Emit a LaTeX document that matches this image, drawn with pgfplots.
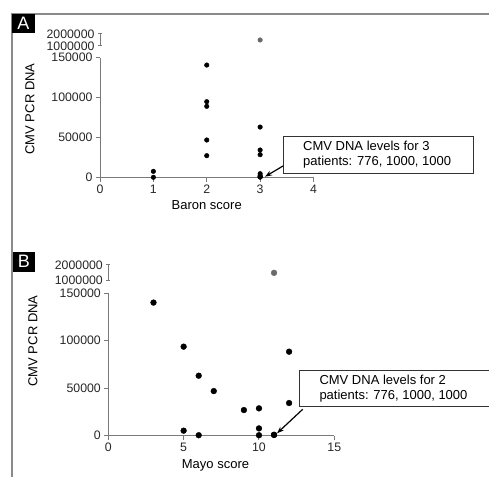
\documentclass[border=0pt]{standalone}
\usepackage{fontspec}
\setmainfont{Liberation Sans}
\usepackage{pgfplots}
\pgfplotsset{compat=1.18}
\usetikzlibrary{arrows.meta}

\definecolor{axisgray}{HTML}{7A7A7A}
\definecolor{framegray}{HTML}{8A8A8A}
\definecolor{dotgray}{HTML}{6A6A6A}

\pgfplotsset{
  panel/.style={
    scale only axis,
    clip=false,
    axis lines=left,
    axis line style={-, axisgray, line width=1pt},
    tick style={axisgray, line width=1pt},
    tick align=outside,
    major tick length=4bp,
    xtick pos=bottom, ytick pos=left,
    scaled y ticks=false,
    /pgf/number format/assume math mode=true,
    yticklabel style={/pgf/number format/fixed, /pgf/number format/1000 sep={}},
    ticklabel style={font=\fontsize{12.3bp}{14bp}\selectfont, text=black!85},
  },
  upper/.style={
    panel,
    hide x axis,
    axis y line=left,
    axis line style={-, axisgray, line width=1pt},
    ymin=1000000, ymax=2000000,
    ytick={1000000,2000000},
  },
  dots/.style={only marks, mark=*, mark size=#1, mark options={fill=black, draw=black}},
  gdots/.style={only marks, mark=*, mark size=#1, mark options={fill=dotgray, draw=dotgray}},
}

\begin{document}
\begin{tikzpicture}[x=1bp, y=1bp, font=\fontsize{13bp}{15bp}\selectfont]
\path[use as bounding box] (0,0) rectangle (489,477);

% frame
\draw[framegray, line width=1.5bp] (489,463) -- (12,463) -- (12,0);

% ---------- panel A ----------
\fill[black] (12,463) rectangle (35,444);
\node[text=white, font=\fontsize{18bp}{18bp}\selectfont] at (23.5,454) {A};

\begin{axis}[panel, at={(100bp,299.3bp)}, anchor=south west,
  width=213.5bp, height=120bp,
  xmin=0, xmax=4, ymin=0, ymax=150000,
  xtick={0,1,2,3,4}, ytick={0,50000,100000,150000}]
\addplot[dots=2.3bp] coordinates {
  (1,7900) (1,500)
  (2,140800) (2,95000) (2,89200) (2,47100) (2,27500)
  (3,63300) (3,34600) (3,28750) (3,5000) (3,2500) (3,1000) (3,1000) (3,776)
};
\end{axis}

\begin{axis}[upper, at={(100bp,431bp)}, anchor=south west,
  width=213.5bp, height=12bp, xmin=0, xmax=4]
\addplot[gdots=2.3bp] coordinates {(3,1500000)};
\end{axis}

\node[rotate=90] at (30,368) {CMV PCR DNA};
\node at (206.7,272) {Baron score};

\draw[black!80, line width=0.8bp] (283,341) rectangle (473,304);
\node[anchor=west, inner sep=0] at (303,331.3) {CMV DNA levels for 3};
\node[anchor=west, inner sep=0] at (303,314.7) {patients: 776, 1000, 1000};
\draw[black, line width=1.2bp, -{Stealth[length=7bp,width=5bp]}] (283,311) -- (265,300.3);

% ---------- panel B ----------
\fill[black] (13,225) rectangle (35,205);
\node[text=white, font=\fontsize{18bp}{18bp}\selectfont] at (24,215.5) {B};

\begin{axis}[panel, at={(108.3bp,41.3bp)}, anchor=south west,
  width=226bp, height=142.4bp,
  xmin=0, xmax=15, ymin=0, ymax=150000,
  xtick={0,5,10,15}, ytick={0,50000,100000,150000}]
\addplot[dots=2.9bp] coordinates {
  (3,140200) (5,93800) (5,5300) (6,63200) (6,500) (7,47000)
  (9,27000) (10,28800) (10,7700) (10,500) (11,1000) (11,776)
  (12,88500) (12,34400)
};
\end{axis}

\begin{axis}[upper, at={(108.3bp,196.3bp)}, anchor=south west,
  width=226bp, height=15.7bp, xmin=0, xmax=15]
\addplot[gdots=2.9bp] coordinates {(11,1500000)};
\end{axis}

\node[rotate=90] at (33,136) {CMV PCR DNA};
\node at (215.5,12) {Mayo score};

\draw[black!80, line width=0.8bp] (490,107) -- (299.3,107) -- (299.3,70.3) -- (490,70.3);
\node[anchor=west, inner sep=0] at (319.3,97) {CMV DNA levels for 2};
\node[anchor=west, inner sep=0] at (319.3,81.3) {patients: 776, 1000, 1000};
\draw[black, line width=1.2bp, -{Stealth[length=7bp,width=5bp]}] (302.7,67.7) -- (277,43.7);
\end{tikzpicture}
\end{document}
